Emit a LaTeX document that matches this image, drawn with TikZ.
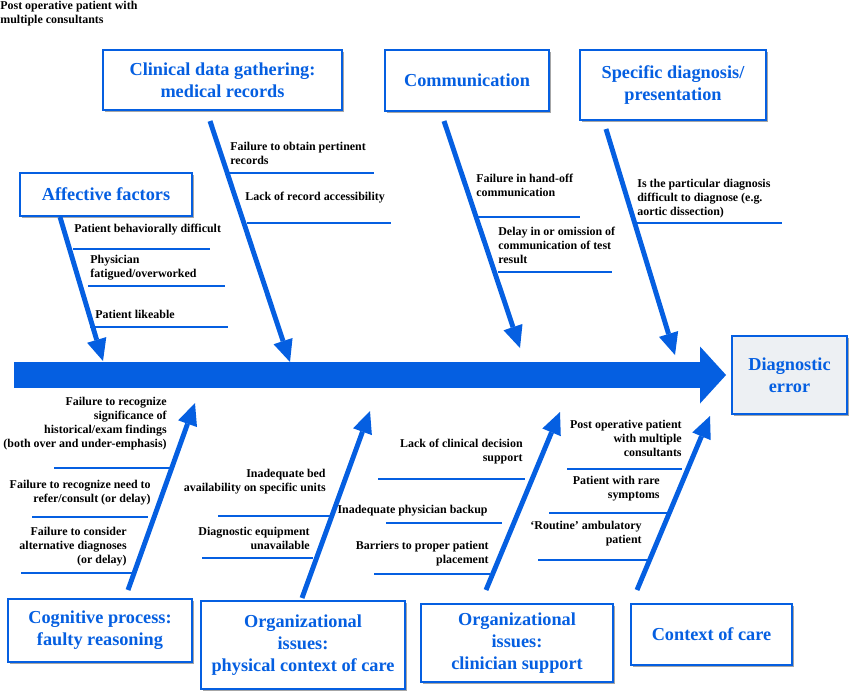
\documentclass[tikz,border=0pt]{standalone}
\usepackage{fontspec}
\setmainfont{Liberation Serif}
\usetikzlibrary{arrows.meta,shadows}
\definecolor{fishblue}{RGB}{5,95,225}
\definecolor{effectgray}{RGB}{237,240,243}

\begin{document}
\begin{tikzpicture}[
    x=0.02cm, y=-0.02cm,
    every node/.style={font=\bfseries\fontsize{6.8}{8}\selectfont},
    category/.style={draw=fishblue, line width=1.1pt, fill=white, text=fishblue, align=center, inner sep=0pt,
        font=\bfseries\fontsize{10.4}{12.6}\selectfont,
        drop shadow={shadow xshift=1.3pt, shadow yshift=-1.3pt, fill=gray!70, opacity=1}},
    causeleft/.style={inner sep=0pt, align=left, anchor=west},
    causeright/.style={inner sep=0pt, align=right, anchor=east},
    bone/.style={draw=fishblue, line width=2.8pt, -{Triangle[width=0.4cm,length=0.44cm,line width=0pt]}},
    branch/.style={draw=fishblue, line width=0.9pt},
    spine/.style={draw=fishblue, line width=0.52cm, -{Triangle[width=1.14cm,length=0.52cm,line width=0pt]}}
]
\useasboundingbox (0,0) rectangle (850,694);
% Note
\node[causeleft] (note) at (0,13.5) {Post operative patient with\\multiple consultants};
% Effect
\node[category, fill=effectgray, minimum width=2.3cm, minimum height=1.56cm] (diagnostic) at (789.5,375) {Diagnostic\\error};
\coordinate (tail) at (14,375);
\draw[spine] (tail) -- ([xshift=-0.1cm]diagnostic.west);
% Categories
\node[category, minimum width=3.44cm, minimum height=0.86cm] (affective) at (106,194.5) {Affective factors};
\node[category, minimum width=4.78cm, minimum height=1.2cm] (clinical) at (222.5,80) {Clinical data gathering:\\medical records};
\node[category, minimum width=3.28cm, minimum height=1.22cm] (communication) at (467,80.5) {Communication};
\node[category, minimum width=3.72cm, minimum height=1.4cm] (specific) at (673,85) {Specific diagnosis/\\presentation};
\node[category, minimum width=3.68cm, minimum height=1.26cm] (cognitive) at (100,630.5) {Cognitive process:\\faulty reasoning};
\node[category, minimum width=4.08cm, minimum height=1.76cm] (physical) at (303,645) {Organizational\\issues:\\physical context of care};
\node[category, minimum width=3.84cm, minimum height=1.56cm] (clinician) at (517,643) {Organizational\\issues:\\clinician support};
\node[category, minimum width=3.22cm, minimum height=1.22cm] (context) at (711.5,634.5) {Context of care};
% Bones
\coordinate (affective0) at (60,217);   \coordinate (affective1) at (103,361);
\coordinate (clinical0) at (210,121);   \coordinate (clinical1) at (290,362);
\coordinate (communication0) at (444,121); \coordinate (communication1) at (520,348);
\coordinate (specific0) at (606,129);   \coordinate (specific1) at (675,355);
\coordinate (cognitive0) at (128,590);  \coordinate (cognitive1) at (195,403);
\coordinate (physical0) at (302,598);   \coordinate (physical1) at (370,411);
\coordinate (clinician0) at (486,590);  \coordinate (clinician1) at (560,412);
\coordinate (context0) at (637,590);    \coordinate (context1) at (710,416);
\draw[bone] (affective0) -- (affective1);
\draw[bone] (clinical0) -- (clinical1);
\draw[bone] (communication0) -- (communication1);
\draw[bone] (specific0) -- (specific1);
\draw[bone] (cognitive0) -- (cognitive1);
\draw[bone] (physical0) -- (physical1);
\draw[bone] (clinician0) -- (clinician1);
\draw[bone] (context0) -- (context1);
% Affective causes
\node[causeleft] (behavior) at (74,230) {Patient behaviorally difficult};
\draw[branch] (73,249) -- (210,249);
\node[causeleft] (fatigue) at (90,268) {Physician\\fatigued/overworked};
\draw[branch] (88,286) -- (225,286);
\node[causeleft] (likeable) at (95,314) {Patient likeable};
\draw[branch] (90,327) -- (228,327);
% Clinical causes
\node[causeleft] (records) at (230,153) {Failure to obtain pertinent\\records};
\draw[branch] (228,173) -- (374,173);
\node[causeleft] (access) at (245,198) {Lack of record accessibility};
\draw[branch] (247,223) -- (391,223);
% Communication causes
\node[causeleft] (handoff) at (476,185.5) {Failure in hand-off\\communication};
\draw[branch] (478,217) -- (580,217);
\node[causeleft] (delay) at (498,245) {Delay in or omission of\\communication of test\\result};
\draw[branch] (498,272) -- (612,272);
% Specific causes
\node[causeleft] (particular) at (637,198.5) {Is the particular diagnosis\\difficult to diagnose (e.g.\\aortic dissection)};
\draw[branch] (636,223) -- (782,223);
% Cognitive causes
\node[causeright] (significance) at (167,423.5) {Failure to recognize\\significance of\\historical/exam findings\\(both over and under-emphasis)};
\draw[branch] (54,468) -- (170,468);
\node[causeright] (refer) at (151,492.5) {Failure to recognize need to\\refer/consult (or delay)};
\draw[branch] (32,517) -- (148,517);
\node[causeright] (alternative) at (127,546.5) {Failure to consider\\alternative diagnoses\\(or delay)};
\draw[branch] (21,573) -- (132,573);
% Physical causes
\node[causeright] (bed) at (326,482) {Inadequate bed\\availability on specific units};
\draw[branch] (218,516) -- (330,516);
\node[causeright] (equipment) at (310,538) {Diagnostic equipment\\unavailable};
\draw[branch] (202,558) -- (313,558);
% Clinician causes
\node[causeright] (decision) at (523,452) {Lack of clinical decision\\support};
\draw[branch] (378,479) -- (525,479);
\node[causeright] (backup) at (488,511) {Inadequate physician backup};
\draw[branch] (386,523) -- (502,523);
\node[causeright] (placement) at (489,554) {Barriers to proper patient\\placement};
\draw[branch] (374,574) -- (490,574);
% Context causes
\node[causeright] (postop) at (682,438) {Post operative patient\\with multiple\\consultants};
\draw[branch] (567,469) -- (682,469);
\node[causeright] (rare) at (660,489) {Patient with rare\\symptoms};
\draw[branch] (549,513) -- (667,513);
\node[causeright] (routine) at (642,533.5) {`Routine' ambulatory\\patient};
\draw[branch] (538,560) -- (647,560);
\end{tikzpicture}
\end{document}
